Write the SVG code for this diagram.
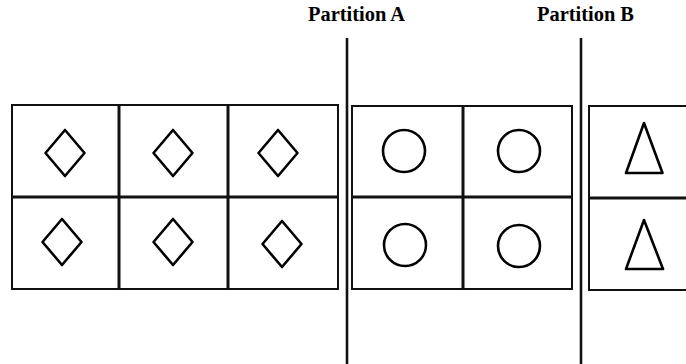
<svg xmlns="http://www.w3.org/2000/svg" width="686" height="364" viewBox="0 0 686 364">
<style>
.cell{fill:none;stroke:#111;stroke-width:2}
.div{stroke:#111;stroke-width:3}
.shape{fill:none;stroke:#000;stroke-width:2.6;stroke-linejoin:round}
.part{stroke:#111;stroke-width:2.6}
.lbl{font-family:"Liberation Serif","Times New Roman",serif;font-weight:bold;font-size:20px;fill:#000}
</style>
<rect width="686" height="364" fill="#ffffff"/>
<g id="labels">
<text class="lbl" x="308" y="21" textLength="97" lengthAdjust="spacingAndGlyphs">Partition A</text>
<text class="lbl" x="537" y="21" textLength="97" lengthAdjust="spacingAndGlyphs">Partition B</text>
</g>
<g id="partitions">
<line class="part" x1="347" y1="38" x2="347" y2="364"/>
<line class="part" x1="581" y1="38" x2="581" y2="364"/>
</g>
<g id="grid-left">
<rect class="cell" x="12" y="105" width="326" height="184"/>
<line class="div" x1="12" y1="197" x2="338" y2="197"/>
<line class="div" x1="119" y1="105" x2="119" y2="289"/>
<line class="div" x1="228" y1="105" x2="228" y2="289"/>
</g>
<g id="cell-d1"><path class="shape" d="M65 130 L84.5 153 L65 176 L45.5 153 Z"/></g>
<g id="cell-d2"><path class="shape" d="M173 130 L192.5 153 L173 176 L153.5 153 Z"/></g>
<g id="cell-d3"><path class="shape" d="M278 130 L297.5 153 L278 176 L258.5 153 Z"/></g>
<g id="cell-d4"><path class="shape" d="M62 219 L81.5 242 L62 265 L42.5 242 Z"/></g>
<g id="cell-d5"><path class="shape" d="M173 219 L192.5 242 L173 265 L153.5 242 Z"/></g>
<g id="cell-d6"><path class="shape" d="M282 221 L301.5 244 L282 267 L262.5 244 Z"/></g>
<g id="grid-a">
<rect class="cell" x="352" y="106" width="220" height="183"/>
<line class="div" x1="352" y1="197" x2="572" y2="197"/>
<line class="div" x1="463" y1="106" x2="463" y2="289"/>
</g>
<g id="cell-c1"><circle class="shape" cx="404" cy="151" r="21"/></g>
<g id="cell-c2"><circle class="shape" cx="519" cy="151" r="21"/></g>
<g id="cell-c3"><circle class="shape" cx="405" cy="245" r="21"/></g>
<g id="cell-c4"><circle class="shape" cx="519" cy="246" r="21"/></g>
<g id="grid-b">
<rect class="cell" x="589" y="106" width="110" height="184"/>
<line class="div" x1="589" y1="198" x2="686" y2="198"/>
</g>
<g id="cell-t1"><path class="shape" d="M644 123 L662.5 173 L626 173 Z"/></g>
<g id="cell-t2"><path class="shape" d="M644 220 L663 269 L626 269 Z"/></g>
</svg>
